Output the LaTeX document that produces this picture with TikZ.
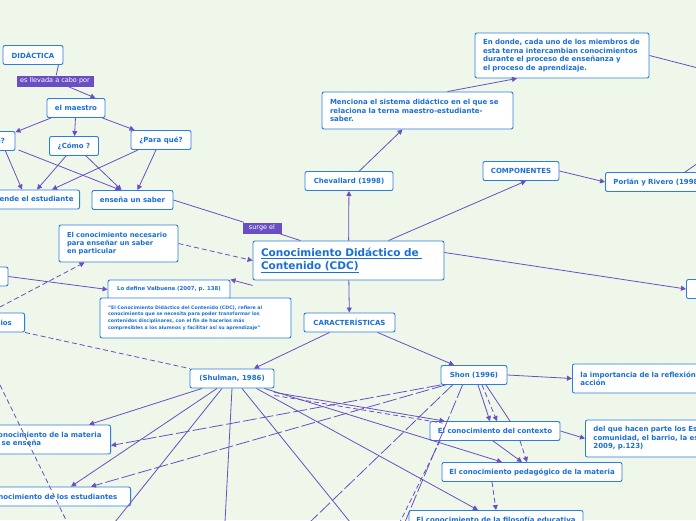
\documentclass[tikz,border=0pt]{standalone}
\usepackage{fontspec}
\setmainfont{DejaVu Sans}
\usetikzlibrary{arrows.meta}
\definecolor{bg}{HTML}{EEF7EA}
\definecolor{bd}{HTML}{2A7DE1}
\definecolor{tx}{HTML}{1A6FD6}
\definecolor{pu}{HTML}{6A4FC4}
\begin{document}
\begin{tikzpicture}[x=1pt,y=-1pt,
 box/.style={draw=bd,fill=white,rounded corners=2pt,line width=0.9pt,text=tx,font=\bfseries\fontsize{7}{8.5}\selectfont,inner sep=2pt,minimum height=19pt},
 tb/.style={align=left,inner xsep=8pt,text width=#1},
 lab/.style={fill=pu,text=white,font=\fontsize{6.5}{7}\selectfont,inner sep=2pt,minimum height=11pt},
 ed/.style={draw=pu,line width=0.8pt},
 ar/.style={ed,-{Triangle[length=5pt,width=5pt]}},
 da/.style={dashed,dash pattern=on 5pt off 3pt},
 lda/.style={dash pattern=on 14pt off 3pt}]
\fill[bg] (0,0) rectangle (696,520);
\useasboundingbox (0,0) rectangle (696,520);
\begin{scope}
\clip (0,0) rectangle (696,520);
% nodes
\node[box,minimum width=60pt] (did) at (33,55) {DIDÁCTICA};
\node[lab,minimum width=77pt] (llev) at (55,81) {es llevada a cabo por};
\node[box,minimum width=58pt] (mae) at (76,108) {el maestro};
\node[box,minimum width=44pt] (que) at (-7,141) {¿Qué?};
\node[box,minimum width=49pt] (como) at (74,146) {¿Cómo ?};
\node[box,minimum width=60pt] (para) at (161,140) {¿Para qué?};
\node[box,minimum width=120pt,anchor=east] (apr) at (80,199.5) {\hfill lo que aprende el estudiante\hspace*{4pt}};
\node[box,minimum width=81pt] (ens) at (132.5,200) {enseña un saber};
\node[lab,minimum width=39pt] (surge) at (262,228) {surge el};
\node[box,minimum height=39pt,tb=175pt,font=\bfseries\fontsize{10.5}{12.5}\selectfont] (cdc) at (348.5,260.5) {\underline{Conocimiento Didáctico de }\\\underline{Contenido (CDC)}};
\node[box,minimum height=37pt,tb=103pt,font=\bfseries\fontsize{6.8}{8.2}\selectfont] (nec) at (118.5,243.5) {El conocimiento necesario\\ para enseñar un saber\\en particular};
\node[box,minimum width=50pt] (lft) at (-17,276.5) {};
\node[box,minimum width=122pt,minimum height=19pt,font=\bfseries\fontsize{5.4}{6}\selectfont] (val) at (169,289.5) {Lo define Valbuena (2007, p. 138)};
\node[box,minimum height=40pt,tb=175pt,font=\bfseries\fontsize{4.7}{6.8}\selectfont] (quo) at (195.5,318) {"El Conocimiento Didáctico del Contenido (CDC), refiere al\\conocimiento que se necesita para poder transformar los\\contenidos disciplinares, con el fin de hacerlos más\\compresibles a los alumnos y facilitar así su aprendizaje"};
\node[box,minimum width=56pt,anchor=east] (dom) at (25,322.5) {\hfill Dominios\hspace*{6pt}};
\node[box,minimum width=88pt] (che) at (349,181) {Chevallard (1998)};
\node[box,minimum height=37pt,tb=175pt] (men) at (417.5,110.5) {Menciona el sistema didáctico en el que se\\relaciona la terna maestro-estudiante-\\saber.};
\node[box,minimum height=45pt,tb=158pt] (don) at (562,55.5) {En donde, cada uno de los miembros de\\esta terna intercambian conocimientos\\durante el proceso de enseñanza y\\el proceso de aprendizaje.};
\node[box,minimum width=76pt] (comp) at (521,171) {COMPONENTES};
\node[box,tb=110pt,anchor=west] (por) at (605,182) {Porlán y Rivero (1998)};
\node[box,minimum width=40pt,anchor=west] (rgt) at (686,289) {E};
\node[box,minimum width=91pt] (car) at (349.5,322.5) {CARACTERÍSTICAS};
\node[box,minimum width=84pt] (shu) at (232,378.5) {(Shulman, 1986)};
\node[box,minimum width=66pt] (sho) at (474,375) {Shon (1996)};
\node[box,minimum height=29pt,tb=160pt,anchor=west] (imp) at (572,378.5) {la importancia de la reflexión en la\\acción};
\node[box,minimum width=130pt] (ctx) at (495,431) {El conocimiento del contexto};
\node[box,minimum height=37pt,tb=170pt,anchor=west] (del) at (585,438.5) {del que hacen parte los Estudiantes, la\\comunidad, el barrio, la escuela\\2009, p.123)};
\node[box,minimum width=180pt] (ped) at (532,472) {El conocimiento pedagógico de la materia};
\node[box,minimum width=174pt] (fil) at (496,520) {El conocimiento de la filosofía educativa};
\node[box,minimum height=29pt,tb=118pt,anchor=east] (mat) at (111,439.5) {\mbox{El conocimiento de la materia}\\\mbox{que se enseña}};
\node[box,minimum width=160pt,anchor=east] (est) at (131,496.5) {\hfill El conocimiento de los estudiantes\hspace*{4pt}};
% edges
\draw[ed] (did.south east)++(-5,0) -- (llev);
\draw[ar] (llev) -- ([xshift=-10pt]mae.north east);
\draw[ar] (mae) -- (que);
\draw[ar] (mae) -- (como);
\draw[ar] (mae) -- (para);
\draw[ar] (que.south east)++(-10,0) -- ([xshift=-58pt]apr.north east);
\draw[ar] (que.south east)++(3,-1) -- ([xshift=-12pt]ens.north);
\draw[ar] ([xshift=-8pt]como.south) -- ([xshift=-43pt]apr.north east);
\draw[ar] ([xshift=12pt]como.south) -- ([xshift=-11pt]ens.north);
\draw[ar] ([xshift=-23pt]para.south) -- ([xshift=-28pt]apr.north east);
\draw[ar] ([xshift=-5pt]para.south) -- ([xshift=5pt]ens.north);
\draw[ed] (ens.east) -- (surge) -- ([xshift=-48pt]cdc.north);
\draw[ar,da] (nec.east) -- (cdc.west);
\draw[ar] ([yshift=-5pt]cdc.south west) -- (val.north east);
\draw[ar] (lft.east) -- (val.west);
\coordinate (c1) at (0,307);
\draw[ar,da] (c1) -- ([xshift=-34pt]nec.south);
\draw[ed,da] (dom.south east) -- (shu.north west);
\coordinate (c2) at (0,385); \coordinate (c3) at (67,522);
\draw[ed,da] (c2) -- (c3);
\draw[ar] (cdc) -- (che);
\draw[ar] (che) -- ([xshift=-15pt]men.south);
\draw[ar] ([xshift=30pt]men.north) -- ([xshift=-45pt]don.south);
\coordinate (c4) at (698,68); \draw[ed] (don.east) -- (c4);
\draw[ar] ([xshift=40pt]cdc.north) -- ([xshift=5pt]comp.south);
\draw[ar] (comp.east) -- (por.west);
\coordinate (c5) at (698,163); \draw[ed] ([xshift=80pt]por.north west) -- (c5);
\draw[ar] ([yshift=8pt]cdc.east) -- (rgt.west);
\draw[ar] (cdc) -- (car);
\draw[ar] ([xshift=-20pt]car.south) -- ([xshift=22pt]shu.north);
\draw[ar] ([xshift=28pt]car.south) -- ([xshift=-20pt]sho.north);
\draw[ar] (sho.east) -- (imp.west);
\draw[ar] (ctx.east) -- (del.west);
% Shulman
\draw[ar] ([xshift=-30pt]shu.south) -- ([xshift=-22pt]mat.north east);
\draw[ar] ([xshift=-15pt]shu.south) -- ([xshift=-60pt]est.north east);
\coordinate (d1) at (115,522); \draw[ed] ([xshift=-10pt]shu.south) -- (d1);
\coordinate (d2) at (225,522); \draw[ed] ([xshift=0pt]shu.south) -- (d2);
\coordinate (d3) at (350,522); \draw[ed] ([xshift=10pt]shu.south) -- (d3);
\draw[ar] ([xshift=-10pt]shu.south east) -- ([xshift=-30pt]ped.north);
\draw[ar] ([xshift=-18pt]shu.south east) -- ([xshift=-18pt]fil.north);
\draw[ar] ([yshift=-4pt]shu.south east) -- ([xshift=15pt]ctx.north west);
\draw[ed,da] ([yshift=-7pt]shu.south east) -- ([xshift=13pt,yshift=-2pt]ctx.north west);
% Shon
\draw[ar,lda] (sho.south west) -- ([yshift=-6pt]mat.east);
\draw[ar,lda] ([xshift=5pt]sho.south west) -- ([xshift=-40pt]est.north east);
\coordinate (d4) at (310,522); \draw[ed,lda] ([xshift=12pt]sho.south west) -- (d4);
\coordinate (d5) at (405,522); \draw[ed,lda] ([xshift=22pt]sho.south west) -- (d5);
\draw[ar] ([xshift=4pt]sho.south) -- ([xshift=-5pt]ctx.north);
\draw[ar,da] ([xshift=8pt]sho.south) -- ([xshift=2pt]ctx.north);
\draw[ed] ([xshift=12pt]sho.south) -- ([xshift=15pt]ctx.north);
\coordinate (d6) at (400,522); \draw[ed,da] ([xshift=-55pt]ctx.south) -- (d6);
\draw[ar] ([xshift=-2pt]ctx.south) -- ([xshift=-10pt]ped.north);
\draw[ar,da] ([xshift=25pt]ctx.south) -- ([xshift=-5pt]ped.north);
\draw[ar,da] ([xshift=-40pt]ped.south) -- ([xshift=0pt]fil.north);
\end{scope}
\end{tikzpicture}
\end{document}
